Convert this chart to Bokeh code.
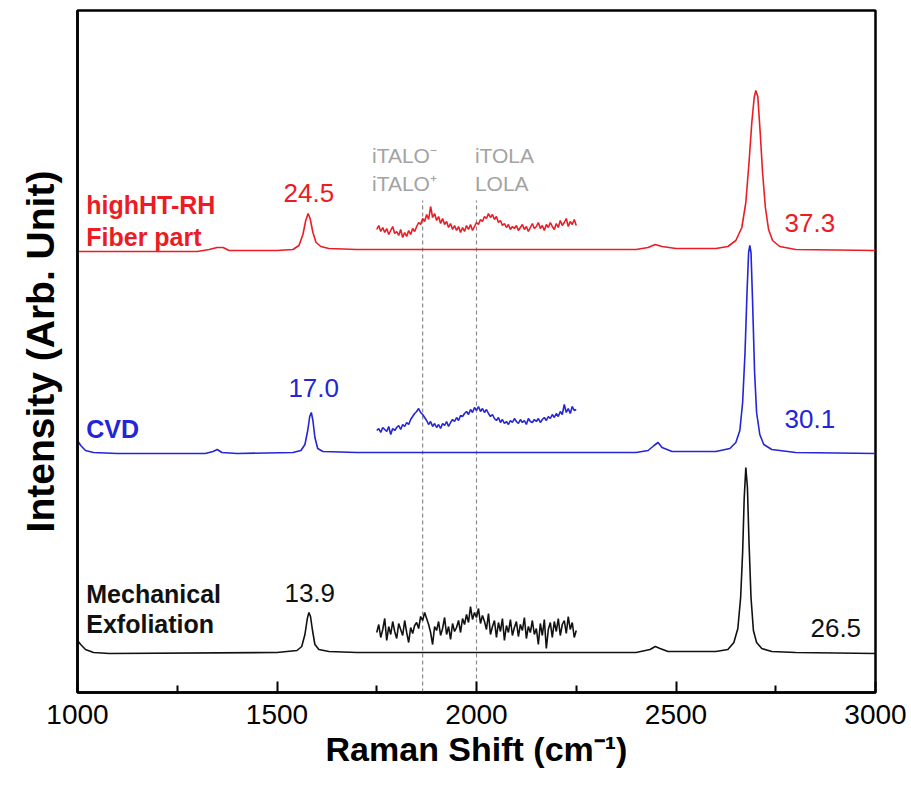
from bokeh.plotting import figure
from bokeh.models import Range1d, Label, FixedTicker
from bokeh.embed import file_html
from bokeh.resources import INLINE

FONT = "Liberation Sans"

# ---------------- data ----------------
# x in cm^-1, intensity in arbitrary units (offset traces)
black_x = [1000, 1008, 1020, 1040, 1080, 1500, 1550, 1562, 1570, 1576, 1580, 1584, 1589, 1595,
           1605, 1630, 1700, 2400, 2435, 2448, 2460, 2480, 2600, 2630, 2645, 2655, 2662, 2667,
           2671, 2675, 2679, 2683, 2688, 2694, 2702, 2715, 2740, 2800, 3000]
black_y = [52, 48, 43, 40, 39, 40, 42, 46, 58, 74, 80, 76, 62, 48,
           43, 41, 40, 40, 43, 46, 44, 41, 41, 43, 50, 64, 95, 140,
           195, 225, 205, 150, 95, 62, 50, 44, 41, 40, 39]

blue_x = [1000, 1008, 1020, 1040, 1100, 1320, 1340, 1350, 1362, 1400, 1540, 1560, 1570, 1577,
          1582, 1586, 1590, 1595, 1602, 1615, 1700, 2400, 2430, 2445, 2455, 2465, 2490, 2600,
          2635, 2650, 2660, 2667, 2673, 2678, 2682, 2685, 2688, 2692, 2697, 2702, 2710, 2720,
          2740, 2800, 3000]
blue_y = [252, 247, 242, 240, 239, 239, 241, 243, 240, 239, 240, 242, 248, 262,
          276, 280, 272, 255, 244, 241, 240, 240, 242, 247, 250, 245, 241, 241,
          244, 250, 262, 290, 340, 400, 440, 447, 440, 390, 320, 280, 258, 248,
          243, 240, 239]

red_x = [1000, 1300, 1330, 1350, 1365, 1380, 1500, 1540, 1555, 1565, 1572, 1578, 1583, 1590,
         1598, 1610, 1630, 1700, 2400, 2430, 2448, 2465, 2500, 2600, 2630, 2650, 2665, 2675,
         2683, 2690, 2696, 2700, 2705, 2711, 2717, 2724, 2732, 2742, 2760, 2800, 3000]
red_y = [441, 441, 443, 445, 445, 442, 442, 443, 447, 458, 472, 479, 474, 460,
         450, 446, 444, 443, 443, 445, 448, 446, 444, 444, 446, 452, 465, 490,
         530, 570, 595, 602, 596, 560, 520, 485, 463, 452, 446, 443, 442]

# magnified 1750-2250 cm^-1 region, one value every 5 cm^-1
zoom_x = list(range(1750, 2251, 5))
black_zoom = [60, 68, 55, 63, 74, 52, 66, 58, 71, 61,
              54, 69, 63, 57, 72, 60, 50, 65, 59, 67,
              70, 64, 76, 72, 80, 74, 68, 60, 48, 66,
              62, 71, 57, 64, 75, 58, 66, 53, 69, 61,
              65, 72, 60, 74, 68, 78, 70, 86, 73, 80,
              75, 84, 69, 77, 71, 63, 79, 58, 66, 72,
              55, 70, 61, 74, 52, 67, 60, 73, 57, 65,
              71, 56, 68, 62, 75, 54, 66, 60, 72, 58,
              64, 48, 69, 57, 73, 44, 63, 70, 55, 71,
              61, 74, 57, 68, 72, 59, 76, 63, 70, 55,
              62]
blue_zoom = [262, 264, 260, 265, 263, 261, 266, 258, 264, 262,
             265, 267, 263, 268, 266, 270, 268, 273, 276, 279,
             281, 284, 280, 278, 275, 272, 268, 271, 266, 269,
             265, 268, 264, 269, 267, 271, 266, 270, 273, 271,
             275, 272, 277, 276, 279, 281, 278, 283, 280, 285,
             282, 286, 281, 284, 280, 283, 279, 276, 278, 274,
             272, 275, 270, 273, 269, 271, 268, 272, 270, 274,
             271, 269, 273, 270, 272, 268, 274, 271, 270, 273,
             271, 274, 270, 273, 275, 272, 276, 274, 278, 275,
             279, 276, 281, 278, 288, 280, 284, 279, 286, 282,
             283]
red_zoom = [463, 467, 461, 465, 460, 464, 458, 462, 466, 459,
            461, 457, 463, 455, 460, 456, 462, 458, 464, 461,
            466, 470, 468, 474, 471, 478, 473, 486, 475, 479,
            472, 476, 469, 474, 468, 471, 465, 469, 463, 467,
            462, 466, 460, 465, 461, 467, 463, 468, 462, 466,
            470, 468, 473, 471, 476, 474, 479, 475, 478, 473,
            476, 470, 472, 467, 469, 465, 468, 463, 466, 464,
            467, 462, 465, 468, 463, 466, 461, 465, 469, 464,
            466, 470, 464, 467, 462, 468, 465, 470, 466, 463,
            469, 465, 472, 467, 470, 474, 466, 471, 468, 473,
            467]

# mode positions (dashed guides) and their names
mode_x = [1865, 2000]
mode_top = [492, 492]
mode_names_1 = ["iTALO\u207b", "iTOLA"]
mode_names_2 = ["iTALO\u207a", "LOLA"]

# sample names and the numbers printed next to the G and 2D peaks
sample_lines = [["highHT-RH", "Fiber part"], ["CVD"], ["Mechanical", "Exfoliation"]]
g_values = ["24.5", "17.0", "13.9"]
d2_values = ["37.3", "30.1", "26.5"]

x_ticks = [1000, 1500, 2000, 2500, 3000]
x_minor = [1250, 1750, 2250, 2750]
x_title = "Raman Shift (cm\u207b\u00b9)"
y_title = "Intensity (Arb. Unit)"

RED = "#ec1c24"
BLUE = "#2424d8"
BLACK = "#111111"
GRAY = "#a3a3a3"

# ---------------- figure ----------------
p = figure(width=911, height=797, output_backend="svg", toolbar_location=None,
           x_range=Range1d(1000, 3000), y_range=Range1d(0, 682),
           min_border_left=77, min_border_right=36, min_border_top=10, min_border_bottom=105)
p.grid.visible = False
p.outline_line_color = "black"
p.outline_line_width = 2.5
p.background_fill_color = "white"
p.border_fill_color = "white"

xa = p.xaxis[0]
xa.ticker = FixedTicker(ticks=x_ticks, minor_ticks=x_minor)
xa.major_tick_in = 11
xa.major_tick_out = 0
xa.minor_tick_in = 7
xa.minor_tick_out = 0
xa.major_tick_line_width = 2
xa.minor_tick_line_width = 2
xa.axis_line_width = 2.5
xa.major_label_text_font = FONT
xa.major_label_text_font_size = "28px"
xa.major_label_text_color = "black"
xa.major_label_standoff = 12
xa.axis_label = x_title
xa.axis_label_text_font = FONT
xa.axis_label_text_font_size = "34px"
xa.axis_label_text_font_style = "bold"
xa.axis_label_text_color = "black"
xa.axis_label_standoff = 3

ya = p.yaxis[0]
ya.ticker = FixedTicker(ticks=[])
ya.major_tick_line_color = None
ya.minor_tick_line_color = None
ya.major_label_text_font_size = "0px"
ya.axis_line_width = 2.5
ya.axis_label = y_title
ya.axis_label_text_font = FONT
ya.axis_label_text_font_size = "39px"
ya.axis_label_text_font_style = "bold"
ya.axis_label_text_color = "black"
ya.axis_label_standoff = 16

# dashed guides
p.segment(x0=mode_x, y0=[0, 0], x1=mode_x, y1=mode_top, line_color="#8a8a8a",
          line_width=1.2, line_dash="4 3")

# spectra
p.line(black_x, black_y, line_color=BLACK, line_width=1.6)
p.line(blue_x, blue_y, line_color=BLUE, line_width=1.6)
p.line(red_x, red_y, line_color=RED, line_width=1.6)
p.line(zoom_x, black_zoom, line_color=BLACK, line_width=1.6)
p.line(zoom_x, blue_zoom, line_color=BLUE, line_width=1.6)
p.line(zoom_x, red_zoom, line_color=RED, line_width=1.6)


def lab(x, y, text, color, size, bold=False, align="left"):
    p.add_layout(Label(x=x, y=y, text=text, text_color=color, text_font=FONT,
                       text_font_size=size, text_font_style="bold" if bold else "normal",
                       text_align=align, text_baseline="middle"))


# mode names
lab(1738, 537, mode_names_1[0], GRAY, "21px")
lab(1738, 509, mode_names_2[0], GRAY, "21px")
lab(1996, 537, mode_names_1[1], GRAY, "21px")
lab(1996, 509, mode_names_2[1], GRAY, "21px")

# sample names
lab(1022, 488, sample_lines[0][0], RED, "25px", bold=True)
lab(1022, 456, sample_lines[0][1], RED, "25px", bold=True)
lab(1022, 264, sample_lines[1][0], BLUE, "25px", bold=True)
lab(1022, 99, sample_lines[2][0], BLACK, "25px", bold=True)
lab(1022, 69, sample_lines[2][1], BLACK, "25px", bold=True)

# numbers
lab(1580, 500, g_values[0], RED, "26px", align="center")
lab(1592, 305, g_values[1], BLUE, "26px", align="center")
lab(1582, 100, g_values[2], BLACK, "26px", align="center")
lab(2772, 470, d2_values[0], RED, "26px")
lab(2772, 274, d2_values[1], BLUE, "26px")
lab(2837, 65, d2_values[2], BLACK, "26px")

open("out.html", "w").write(file_html(p, INLINE))
